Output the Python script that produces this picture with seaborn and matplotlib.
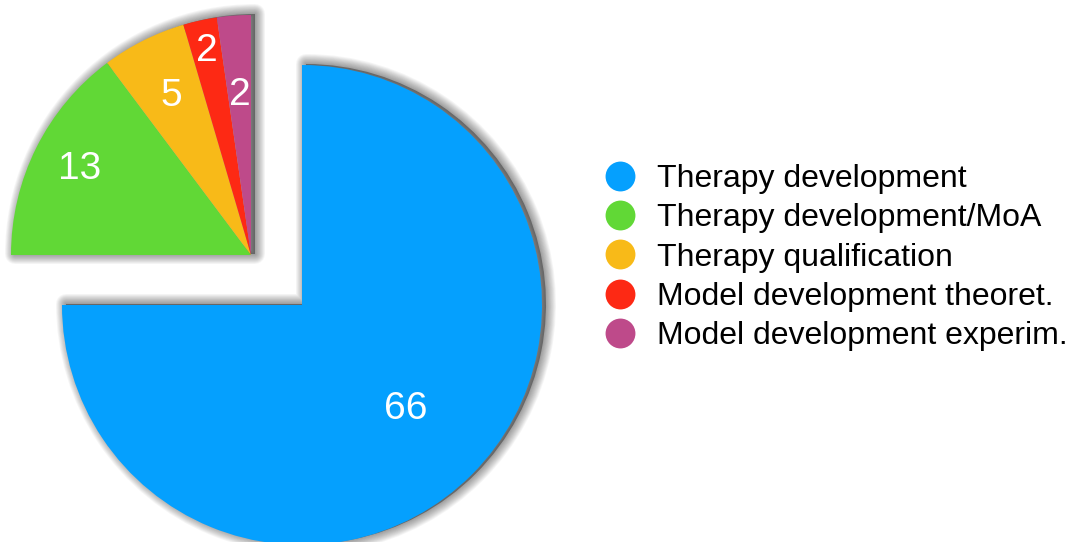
import numpy as np
import matplotlib.pyplot as plt
import seaborn as sns
from matplotlib.patches import Wedge
from matplotlib.lines import Line2D

# data
categories = ['Therapy development', 'Therapy development/MoA', 'Therapy qualification',
              'Model development theoret.', 'Model development experim.']
counts = [66, 13, 5, 2, 2]
colors = ['#05A0FE', '#61D836', '#F8BA18', '#FD2914', '#BE4A8A']
label_dist = [0.61, 0.80, 0.74, 0.87, 0.67]

sns.set_theme(style='white')
plt.rcParams['font.family'] = ['Liberation Sans', 'DejaVu Sans']
plt.rcParams['text.color'] = 'black'
palette = sns.color_palette(colors)

W, H = 1085, 542
fig = plt.figure(figsize=(W / 100, H / 100), dpi=100)
ax = fig.add_axes([0, 0, 1, 1])

R = 240
big_center = (302, H - 305)
small_center = (251, H - 255)

# the big slice is pulled down-right, the rest of the pie up-left
wedges_a, _ = ax.pie(counts, colors=palette, startangle=90, counterclock=False,
                     radius=R, center=big_center, frame=True, wedgeprops={'linewidth': 0})
wedges_b, _ = ax.pie(counts, colors=palette, startangle=90, counterclock=False,
                     radius=R, center=small_center, frame=True, wedgeprops={'linewidth': 0})
shown = [wedges_a[0]] + list(wedges_b[1:])
for w in list(wedges_a[1:]) + [wedges_b[0]]:
    w.set_visible(False)
for w in shown:
    w.set_zorder(3)


# soft drop shadow: one translucent fill plus stacked strokes for the blur
def add_shadow(center, t1, t2, dx=4, dy=1, blur=10, n=12):
    c = (center[0] + dx, center[1] + dy)
    ax.add_patch(Wedge(c, R, t1, t2, facecolor=(0, 0, 0, 0.35), linewidth=0, zorder=1))
    for k in range(n):
        lw_px = 2 * blur * (1 - k / n)
        ax.add_patch(Wedge(c, R, t1, t2, facecolor='none', edgecolor=(0, 0, 0, 0.035),
                           linewidth=lw_px * 72 / 100, joinstyle='round', zorder=1))


add_shadow(big_center, wedges_a[0].theta1, wedges_a[0].theta2)
small = wedges_b[1:]
add_shadow(small_center, min(w.theta1 for w in small), max(w.theta2 for w in small))

# value labels
for w, v, d in zip(shown, counts, label_dist):
    tm = np.deg2rad((w.theta1 + w.theta2) / 2)
    cx, cy = w.center
    ax.text(cx + d * R * np.cos(tm), cy + d * R * np.sin(tm), str(v),
            color='white', fontsize=28, ha='center', va='center', zorder=4)

ax.set_xlim(0, W)
ax.set_ylim(0, H)
ax.set_aspect('equal')
ax.axis('off')

handles = [Line2D([], [], marker='o', linestyle='none', markersize=21.5,
                  markerfacecolor=c, markeredgewidth=0) for c in palette]
fig.legend(handles, categories, loc='center left', bbox_to_anchor=(605 / W, 1 - 257.5 / H),
           frameon=False, fontsize=23, handlelength=0.94, handletextpad=0.7,
           labelspacing=0.29, borderpad=0, borderaxespad=0, labelcolor='black')

fig.savefig('out.png', dpi=100)
